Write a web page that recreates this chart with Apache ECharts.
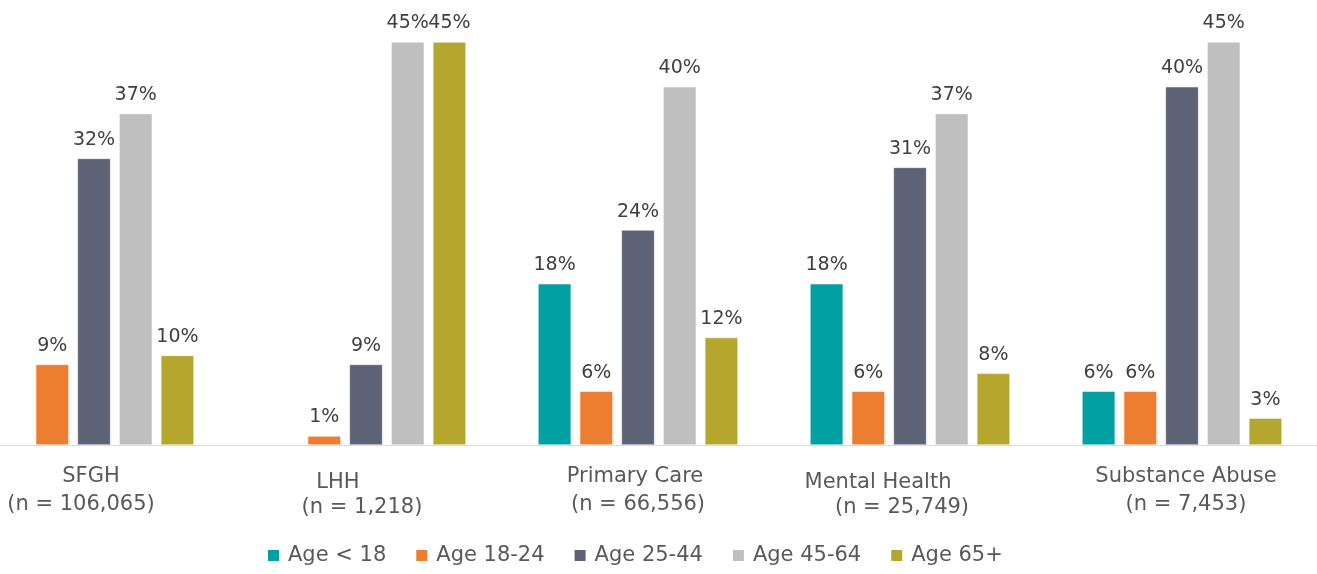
<!DOCTYPE html>
<html>
<head>
<meta charset="utf-8">
<script src="https://cdn.jsdelivr.net/npm/echarts@6/dist/echarts.min.js"></script>
<style>
  html, body { margin: 0; padding: 0; background: #fff; }
  #chart { width: 1317px; height: 574px; }
</style>
</head>
<body>
<div id="chart"></div>
<script>
// categories (two-line labels: name / sample size)
const categories = ['SFGH', 'LHH', 'Primary Care', 'Mental Health', 'Substance Abuse'];
const sampleSizes = ['(n = 106,065)', '(n = 1,218)', '(n = 66,556)', '(n = 25,749)', '(n = 7,453)'];

const seriesNames = ['Age < 18', 'Age 18-24', 'Age 25-44', 'Age 45-64', 'Age 65+'];
// percent of patients per age group, null = no bar
const ageUnder18 = [null, null, 18, 18, 6];
const age18to24 = [9, 1, 6, 6, 6];
const age25to44 = [32, 9, 24, 31, 40];
const age45to64 = [37, 45, 40, 37, 45];
const age65plus = [10, 45, 12, 8, 3];

const colors = ['#00A0A3', '#ED7D31', '#5D6277', '#BFBFBF', '#B5A72D'];

// label nudges in pixels (name line / n line), to follow the original layout
const nameShift = [-3, -28, -3, -32, 4];
const nShift = [-13, -4, 0, -8, 4];
const lowered = [false, true, false, true, false];

const FONT = '"DejaVu Sans", "Noto Sans", sans-serif';

const rich = {};
categories.forEach((c, i) => {
    const s1 = nameShift[i], s2 = nShift[i];
    rich['a' + i] = {
        fontFamily: FONT, fontSize: 21, color: '#595959',
        lineHeight: lowered[i] ? 40 : 28,
        padding: s1 < 0 ? [0, -2 * s1, 0, 0] : [0, 0, 0, 2 * s1]
    };
    rich['b' + i] = {
        fontFamily: FONT, fontSize: 21, color: '#595959',
        lineHeight: lowered[i] ? 10 : 28,
        padding: s2 < 0 ? [0, -2 * s2, 0, 0] : [0, 0, 0, 2 * s2]
    };
});

const allValues = [ageUnder18, age18to24, age25to44, age45to64, age65plus];

const chart = echarts.init(document.getElementById('chart'), null, { renderer: 'canvas' });

chart.setOption({
    animation: false,
    color: colors,
    textStyle: { fontFamily: FONT },
    grid: { left: -42, width: 1360, top: 42, bottom: 129, outerBoundsMode: 'none', containLabel: false },
    legend: {
        bottom: 3,
        left: 261,
        itemWidth: 13,
        itemHeight: 13,
        itemGap: 28,
        icon: 'rect',
        textStyle: { fontFamily: FONT, fontSize: 21, color: '#595959', padding: [0, 0, 0, 3] },
        data: seriesNames
    },
    xAxis: {
        type: 'category',
        data: categories,
        axisTick: { show: false },
        axisLine: { lineStyle: { color: '#D9D9D9', width: 1 } },
        axisLabel: {
            interval: 0,
            margin: 18,
            formatter: (v, i) => '{a' + i + '|' + v + '}\n{b' + i + '|' + sampleSizes[i] + '}',
            rich: rich
        }
    },
    yAxis: {
        type: 'value',
        min: 0,
        max: 45,
        show: false,
        splitLine: { show: false }
    },
    series: seriesNames.map((name, k) => ({
        name: name,
        type: 'bar',
        data: allValues[k],
        barGap: '26%',
        barCategoryGap: '26.5%',
        itemStyle: { borderColor: '#fff', borderWidth: 0.5 },
        label: {
            show: true,
            position: 'top',
            distance: 9,
            formatter: p => p.value + '%',
            fontFamily: FONT,
            fontSize: 19,
            color: '#404040'
        }
    }))
});
</script>
</body>
</html>
